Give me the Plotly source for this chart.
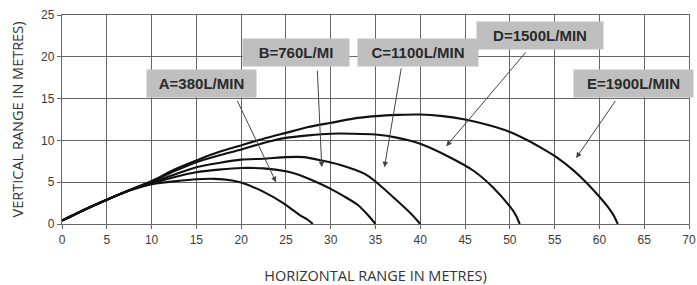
import plotly.graph_objects as go

# ---- data ----
a_x = [0, 2.5, 5, 7.5, 9, 10.5, 12.5, 15, 17, 19, 20, 22.4, 24.7, 26.5, 27.5, 28]
a_y = [0.4, 1.7, 2.9, 4.0, 4.5, 4.85, 5.1, 5.35, 5.4, 5.2, 4.95, 3.9, 2.5, 1.1, 0.45, 0]

b_x = [0, 2.5, 5, 7.5, 9, 10.5, 12.5, 15, 17.5, 20, 22.5, 25, 26.5, 28, 30, 31.5, 33, 34.3, 35]
b_y = [0.4, 1.7, 2.9, 4.0, 4.55, 5.0, 5.6, 6.2, 6.5, 6.7, 6.65, 6.3, 5.85, 5.2, 4.2, 3.3, 2.3, 0.9, 0]

c_x = [0, 2.5, 5, 7.5, 9, 10.5, 12.5, 15, 17.5, 20, 22.5, 25, 27, 29, 31, 33.8, 35.1, 37.3, 39, 40]
c_y = [0.4, 1.7, 2.9, 4.0, 4.6, 5.15, 5.9, 6.8, 7.3, 7.7, 7.8, 8.0, 8.0, 7.6, 7.1, 6.0, 5.0, 2.9, 1.2, 0]

d_x = [0, 2.5, 5, 7.5, 9, 10.5, 12.5, 15, 17.5, 20, 22.5, 25, 27.5, 30, 32.5, 35, 37.5, 40, 42.9, 45.9, 48.1, 50, 50.7, 51.1]
d_y = [0.4, 1.7, 2.9, 4.05, 4.65, 5.3, 6.3, 7.4, 8.2, 8.9, 9.7, 10.3, 10.6, 10.8, 10.8, 10.7, 10.3, 9.6, 8.2, 6.4, 4.4, 2.1, 1.0, 0]

e_x = [0, 2.5, 5, 7.5, 9, 10.5, 12.5, 15, 17.5, 20, 22.5, 25, 27.5, 30, 32.5, 35, 37.5, 40, 42.5, 45, 47.7, 50, 51.8, 53.5, 55.2, 57, 58.5, 59.8, 60.9, 61.6, 62.05]
e_y = [0.4, 1.7, 2.9, 4.05, 4.7, 5.4, 6.5, 7.6, 8.6, 9.4, 10.2, 10.9, 11.6, 12.1, 12.6, 12.9, 13.05, 13.1, 12.9, 12.5, 11.8, 11.0, 10.1, 9.1, 8.0, 6.5, 5.0, 3.5, 2.1, 1.0, 0]

labels = ["A=380L/MIN", "B=760L/MI", "C=1100L/MIN", "D=1500L/MIN", "E=1900L/MIN"]
label_x = [15.55, 26.1, 39.7, 53.4, 63.8]
label_y = [16.8, 20.5, 20.5, 22.5, 16.8]
label_w = [107, 104, 118, 124, 117]
arrow_from_x = [19.5, 28.5, 37.9, 51.9, 61.9]
arrow_from_y = [14.9, 18.5, 18.8, 20.7, 14.9]
arrow_to_x = [23.9, 29.0, 36.0, 42.9, 57.4]
arrow_to_y = [5.0, 6.8, 6.8, 9.3, 7.9]

x_ticks = list(range(0, 71, 5))
y_ticks = list(range(0, 26, 5))

series = [(a_x, a_y), (b_x, b_y), (c_x, c_y), (d_x, d_y), (e_x, e_y)]

fig = go.Figure()
for xs, ys in series:
    fig.add_trace(go.Scatter(x=xs, y=ys, mode="lines",
                             line=dict(color="#111111", width=2.1, shape="spline", smoothing=0.6),
                             showlegend=False, hoverinfo="skip"))

annotations = []
for i in range(len(labels)):
    annotations.append(dict(
        x=arrow_to_x[i], y=arrow_to_y[i], xref="x", yref="y",
        ax=arrow_from_x[i], ay=arrow_from_y[i], axref="x", ayref="y",
        text="", showarrow=True, arrowhead=2, arrowsize=1.1, arrowwidth=1,
        arrowcolor="#444444", standoff=0, startstandoff=0))
    annotations.append(dict(
        x=label_x[i], y=label_y[i], xref="x", yref="y",
        text="<b>" + labels[i] + "</b>", showarrow=False,
        bgcolor="#bfbfbf", width=label_w[i], height=25,
        font=dict(family="Liberation Sans, Arial", size=15, color="#2a2a2a"),
        xanchor="center", yanchor="middle"))

axis_common = dict(showgrid=True, gridcolor="#666666", gridwidth=1.3,
                   showline=True, linecolor="#666666", linewidth=1.3, mirror=True,
                   ticks="outside", ticklen=4, tickcolor="#666666",
                   tickfont=dict(family="Liberation Sans, Arial", size=12, color="#3a3a3a"),
                   zeroline=False, automargin=False)

fig.update_layout(
    width=697, height=285,
    margin=dict(l=62, r=8, t=15, b=61, autoexpand=False),
    paper_bgcolor="white", plot_bgcolor="white",
    annotations=annotations,
    xaxis=dict(range=[0, 70], tickvals=x_ticks,
               title=dict(text="HORIZONTAL RANGE IN METRES)", standoff=25,
                          font=dict(family="Open Sans", size=14.5, color="#333333")),
               **axis_common),
    yaxis=dict(range=[0, 25], tickvals=y_ticks,
               title=dict(text="VERTICAL RANGE IN METRES)", standoff=14,
                          font=dict(family="Open Sans", size=14.5, color="#333333")),
               **axis_common),
)

fig.write_html("out.html", config={"displayModeBar": False},
               post_script="document.body.style.margin='0';document.body.style.overflow='hidden';")
